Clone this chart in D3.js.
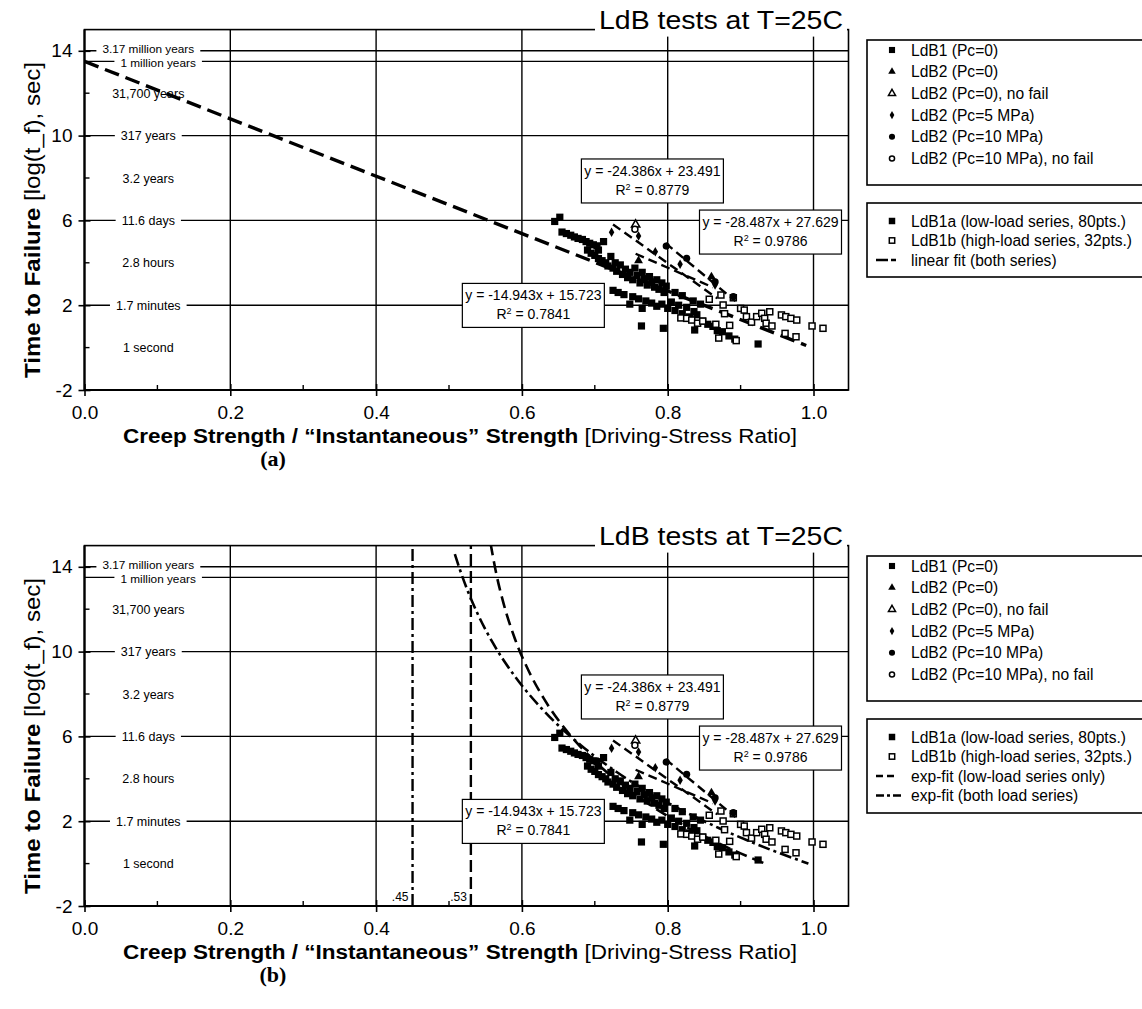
<!DOCTYPE html>
<html><head><meta charset="utf-8">
<script src="https://cdn.jsdelivr.net/npm/d3@7"></script>
<style>body{margin:0;background:#fff}svg{display:block}text{font-family:"Liberation Sans",Arial,sans-serif}</style>
</head><body>
<svg id="chart" width="1142" height="1009"></svg>
<script>
// ---- axis ticks ----
const xTicks = [0, 0.2, 0.4, 0.6, 0.8, 1.0];
const xMinor = [0.1, 0.3, 0.5, 0.7, 0.9];
const yTicks = [-2, 2, 6, 10, 14];
const yMinor = [0, 4, 8, 12];
const xGrid = [0.2, 0.4, 0.6, 0.8, 1.0];

// ---- time-to-failure reference levels (log10 seconds) ----
const timeValues = [0, 2, 4, 6, 8, 10, 12, 13.5, 14];
const timeLabels = ["1 second", "1.7 minutes", "2.8 hours", "11.6 days", "3.2 years", "317 years", "31,700 years", "1 million years", "3.17 million years"];
const timeRuled = [false, true, false, true, false, true, false, true, true];

// ---- LdB1 low-load series (80 pts) [ratio, log t_f] ----
const ldb1a = [
 [0.645,5.95],[0.652,6.15],[0.655,5.45],[0.661,5.38],[0.667,5.30],[0.672,5.22],[0.677,5.15],[0.683,5.10],
 [0.688,5.00],[0.693,4.92],[0.698,4.85],[0.703,4.80],[0.690,4.60],[0.695,4.45],[0.700,4.35],[0.705,4.20],
 [0.710,4.10],[0.705,4.60],[0.715,4.00],[0.718,3.85],[0.722,4.30],[0.725,3.75],[0.728,4.00],[0.730,3.60],
 [0.735,3.90],[0.738,3.45],[0.742,3.70],[0.745,3.30],[0.748,3.55],[0.752,3.20],[0.755,3.75],[0.758,3.40],
 [0.762,3.05],[0.765,3.55],[0.768,3.25],[0.772,2.95],[0.775,3.35],[0.778,3.10],[0.782,2.85],[0.785,3.20],
 [0.788,2.75],[0.792,3.05],[0.795,2.60],[0.798,2.90],[0.725,2.70],[0.732,2.60],[0.740,2.50],[0.748,2.05],
 [0.752,2.40],[0.760,2.30],[0.765,1.85],[0.770,2.20],[0.778,2.10],[0.785,1.95],[0.792,2.05],[0.800,1.85],
 [0.805,2.15],[0.810,1.75],[0.815,2.00],[0.820,1.60],[0.826,1.90],[0.830,1.45],[0.836,1.70],[0.840,1.55],
 [0.848,1.25],[0.855,1.10],[0.862,1.00],[0.868,0.80],[0.875,0.75],[0.884,0.55],[0.892,0.40],[0.924,0.17],
 [0.764,1.02],[0.794,0.91],[0.837,0.83],[0.810,2.60],[0.820,2.45],[0.835,2.20],[0.845,2.05],[0.712,5.00]
];
// ---- LdB1 high-load series (32 pts) ----
const ldb1b = [
 [0.818,1.40],[0.826,1.38],[0.833,1.30],[0.841,1.15],[0.848,1.25],[0.857,2.28],[0.873,2.48],[0.876,2.01],
 [0.878,1.60],[0.890,2.35],[0.894,0.33],[0.900,1.85],[0.905,1.77],[0.908,1.46],[0.915,1.20],[0.922,1.46],
 [0.929,1.62],[0.933,1.38],[0.935,1.15],[0.940,1.69],[0.943,1.02],[0.956,1.54],[0.962,1.46],[0.961,0.67],
 [0.969,1.38],[0.976,0.51],[0.977,1.30],[0.998,1.02],[1.013,0.91],[0.866,1.10],[0.885,1.05],[0.870,0.45]
];
// ---- LdB2 series ----
const ldb2Pc0 = [[0.760,4.10],[0.860,3.34]];
const ldb2Pc0NoFail = [[0.756,5.80]];
const ldb2Pc5 = [[0.723,5.44],[0.760,5.26],[0.783,4.52],[0.817,3.93],[0.865,2.95]];
const ldb2Pc10 = [[0.798,4.79],[0.826,4.21],[0.865,3.10],[0.890,2.40]];
const ldb2Pc10NoFail = [[0.755,5.58]];

// ---- fits ----
const linearBoth = [[0.0,13.5],[0.99,0.10]];
const fitSlopes = [-24.386, -28.487, -14.943];
const fitIntercepts = [23.491, 27.629, 15.723];
const fitR2 = ["0.8779", "0.9786", "0.7841"];
const fitRanges = [[0.725,0.868],[0.797,0.893],[0.756,0.862]];
const fitBoxAt = [[0.779,7.86],[0.941,5.45],[0.6157,1.99]];

// exponential fits (panel b)
const expLowLoad = [[0.557,15.1],[0.565,13.65],[0.575,12.25],[0.590,10.64],[0.610,9.04],[0.630,7.79],[0.660,6.32],
 [0.700,4.83],[0.750,3.39],[0.800,2.24],[0.850,1.29],[0.900,0.48],[0.935,-0.02]];
const expBoth = [[0.508,14.60],[0.515,13.86],[0.525,12.92],[0.540,11.73],[0.560,10.42],[0.590,8.85],[0.630,7.21],
 [0.680,5.61],[0.730,4.32],[0.800,2.87],[0.870,1.68],[0.940,0.67],[0.993,0.0]];
const asymptotes = [0.45, 0.53];
const asymptoteLabels = [".45", ".53"];

const svg = d3.select("#chart");

function marker(sel, kind, size) {
  const s = size || 1;
  if (kind === "sq") return sel.append("rect").attr("x",-3.6*s).attr("y",-3.6*s).attr("width",7.2*s).attr("height",7.2*s).attr("fill","#000");
  if (kind === "osq") return sel.append("rect").attr("x",-3*s).attr("y",-3*s).attr("width",6*s).attr("height",6*s).attr("fill","#fff").attr("stroke","#000").attr("stroke-width",1.5);
  if (kind === "tri") return sel.append("path").attr("d",d3.symbol(d3.symbolTriangle, 34*s*s)()).attr("fill","#000");
  if (kind === "otri") return sel.append("path").attr("d",d3.symbol(d3.symbolTriangle, 30*s*s)()).attr("fill","#fff").attr("stroke","#000").attr("stroke-width",1.5);
  if (kind === "dia") return sel.append("path").attr("d",d3.symbol(d3.symbolDiamond, 26*s*s)()).attr("fill","#000");
  if (kind === "cir") return sel.append("circle").attr("r",3.6*s).attr("fill","#000");
  if (kind === "ocir") return sel.append("circle").attr("r",3*s).attr("fill","#fff").attr("stroke","#000").attr("stroke-width",1.5);
}

function drawPanel(dy, variant) {
  const g = svg.append("g").attr("transform", `translate(0,${dy})`);
  const x = d3.scaleLinear().domain([0, 1.048]).range([84.5, 848.5]);
  const y = d3.scaleLinear().domain([-2, 15]).range([390, 29.6]);
  const clipId = "clip-" + variant;
  g.append("clipPath").attr("id", clipId).append("rect")
    .attr("x", x(0)).attr("y", y(15)).attr("width", x(1.048) - x(0)).attr("height", y(-2) - y(15));

  // grid
  g.selectAll(".vg").data(xGrid).join("line")
    .attr("x1", d => x(d)).attr("x2", d => x(d)).attr("y1", y(-2)).attr("y2", y(15))
    .attr("stroke", "#000").attr("stroke-width", 1.4);
  const ruled = timeValues.filter((v, i) => timeRuled[i]);
  g.selectAll(".hg").data(ruled).join("line")
    .attr("x1", x(0)).attr("x2", x(1.048)).attr("y1", d => y(d)).attr("y2", d => y(d))
    .attr("stroke", "#000").attr("stroke-width", 1.4);

  // time labels on the left part of the plot
  timeValues.forEach((v, i) => {
    const lbl = timeLabels[i];
    const cx = lbl === "1 million years" ? x(0.101) : x(0.0875);
    // the two closely spaced top levels are nudged apart slightly
    const nudge = lbl === "1 million years" ? 1.6 : lbl === "3.17 million years" ? -1.6 : 0;
    const t = g.append("text").attr("x", cx).attr("y", y(v) + nudge).attr("dy", "0.36em")
      .attr("text-anchor", "middle").attr("font-size", timeRuled[i] && v > 13 ? 11.8 : 12.5).text(lbl);
    if (timeRuled[i]) {
      const b = t.node().getBBox();
      g.insert("rect", () => t.node()).attr("x", b.x - 6).attr("y", y(v) - 2).attr("width", b.width + 12).attr("height", 4).attr("fill", "#fff");
    }
  });

  const plot = g.append("g").attr("clip-path", `url(#${clipId})`);

  // fitted curves
  const line = d3.line().x(d => x(d[0])).y(d => y(d[1]));
  if (variant === "a") {
    plot.append("path").datum(linearBoth).attr("d", line).attr("fill", "none")
      .attr("stroke", "#000").attr("stroke-width", 3.4).attr("stroke-dasharray", "15,7");
  } else {
    const curve = d3.line().x(d => x(d[0])).y(d => y(d[1])).curve(d3.curveMonotoneX);
    plot.append("path").datum(expLowLoad).attr("d", curve).attr("fill", "none")
      .attr("stroke", "#000").attr("stroke-width", 2.6).attr("stroke-dasharray", "12,6");
    plot.append("path").datum(expBoth).attr("d", curve).attr("fill", "none")
      .attr("stroke", "#000").attr("stroke-width", 2.6).attr("stroke-dasharray", "12,4,3,4");
    asymptotes.forEach((a, i) => {
      plot.append("line").attr("x1", x(a)).attr("x2", x(a)).attr("y1", y(-2)).attr("y2", y(15))
        .attr("stroke", "#000").attr("stroke-width", 2.4)
        .attr("stroke-dasharray", i === 0 ? "12,4,3,4" : "12,5");
      g.append("text").attr("x", x(a) - 4).attr("y", y(-2) - 5).attr("text-anchor", "end")
        .attr("font-size", 12).text(asymptoteLabels[i]);
    });
  }
  fitSlopes.forEach((m, i) => {
    const pts = fitRanges[i].map(xx => [xx, m * xx + fitIntercepts[i]]);
    plot.append("path").datum(pts).attr("d", line).attr("fill", "none")
      .attr("stroke", "#000").attr("stroke-width", 2.4).attr("stroke-dasharray", "9,5");
  });

  // data points
  const groups = [[ldb1a,"sq"],[ldb1b,"osq"],[ldb2Pc0,"tri"],[ldb2Pc0NoFail,"otri"],[ldb2Pc5,"dia"],[ldb2Pc10,"cir"],[ldb2Pc10NoFail,"ocir"]];
  groups.forEach(([data, kind]) => {
    data.forEach(d => {
      const m = plot.append("g").attr("transform", `translate(${x(d[0])},${y(d[1])})`);
      marker(m, kind);
    });
  });

  // equation boxes
  fitSlopes.forEach((m, i) => {
    const cx = x(fitBoxAt[i][0]), cy = y(fitBoxAt[i][1]);
    const bg = g.append("g").attr("transform", `translate(${cx},${cy})`);
    bg.append("rect").attr("x", -71).attr("y", -22).attr("width", 142).attr("height", 44)
      .attr("fill", "#fff").attr("stroke", "#000").attr("stroke-width", 1.2);
    const sgn = fitIntercepts[i] >= 0 ? "+" : "-";
    bg.append("text").attr("y", -5).attr("text-anchor", "middle").attr("font-size", 14)
      .text(`y = ${m}x ${sgn} ${Math.abs(fitIntercepts[i]).toFixed(3)}`);
    const r = bg.append("text").attr("y", 14).attr("text-anchor", "middle").attr("font-size", 14);
    r.append("tspan").text("R");
    r.append("tspan").attr("font-size", 9).attr("dy", -5).text("2");
    r.append("tspan").attr("dy", 5).text(` = ${fitR2[i]}`);
  });

  // frame
  g.append("rect").attr("x", x(0)).attr("y", y(15)).attr("width", x(1.048) - x(0)).attr("height", y(-2) - y(15))
    .attr("fill", "none").attr("stroke", "#000").attr("stroke-width", 1.6);
  g.append("line").attr("x1", x(0)).attr("x2", x(1.048)).attr("y1", y(-2)).attr("y2", y(-2)).attr("stroke", "#000").attr("stroke-width", 2.2);
  g.append("line").attr("x1", x(0)).attr("x2", x(0)).attr("y1", y(-2)).attr("y2", y(15)).attr("stroke", "#000").attr("stroke-width", 2.2);

  // title over the top border
  const tt = g.append("text").attr("x", 599).attr("y", y(15) - 1).attr("font-size", 25)
    .attr("textLength", 244).attr("lengthAdjust", "spacingAndGlyphs").text("LdB tests at T=25C");
  const tb = tt.node().getBBox();
  g.insert("rect", () => tt.node()).attr("x", tb.x - 4).attr("y", tb.y).attr("width", tb.width + 8).attr("height", tb.height + 3).attr("fill", "#fff");

  // x axis
  const xa = g.append("g").attr("transform", `translate(0,${y(-2)})`)
    .call(d3.axisBottom(x).tickValues(xTicks).tickFormat(d3.format(".1f")).tickSize(6).tickPadding(10));
  xa.select(".domain").remove();
  xa.selectAll(".tick line").attr("y1", -6).attr("y2", 6).attr("stroke-width", 1.6);
  xa.selectAll(".tick text").attr("font-size", 19).attr("font-family", "Liberation Sans, Arial, sans-serif");
  g.selectAll(".xm").data(xMinor).join("line").attr("x1", d => x(d)).attr("x2", d => x(d))
    .attr("y1", y(-2) - 5).attr("y2", y(-2)).attr("stroke", "#000").attr("stroke-width", 1.4);

  // y axis
  const ya = g.append("g").attr("transform", `translate(${x(0)},0)`)
    .call(d3.axisLeft(y).tickValues(yTicks).tickFormat(d => String(d)).tickSize(6).tickPadding(6));
  ya.select(".domain").remove();
  ya.selectAll(".tick line").attr("x1", -6).attr("x2", 6).attr("stroke-width", 1.6);
  ya.selectAll(".tick text").attr("font-size", 19).attr("font-family", "Liberation Sans, Arial, sans-serif");
  g.selectAll(".ym").data(yMinor).join("line").attr("x1", x(0)).attr("x2", x(0) + 5)
    .attr("y1", d => y(d)).attr("y2", d => y(d)).attr("stroke", "#000").attr("stroke-width", 1.4);

  // axis titles
  const yt = g.append("text").attr("transform", `translate(40,220) rotate(-90)`).attr("text-anchor", "middle")
    .attr("font-size", 22).attr("textLength", 316).attr("lengthAdjust", "spacingAndGlyphs");
  yt.append("tspan").attr("font-weight", "bold").text("Time to Failure");
  yt.append("tspan").text(" [log(t_f), sec]");
  const xt = g.append("text").attr("x", 460).attr("y", 443).attr("text-anchor", "middle").attr("font-size", 20)
    .attr("textLength", 674).attr("lengthAdjust", "spacingAndGlyphs");
  xt.append("tspan").attr("font-weight", "bold").text("Creep Strength / \u201cInstantaneous\u201d Strength");
  xt.append("tspan").text(" [Driving-Stress Ratio]");
  g.append("text").attr("x", 273).attr("y", 466).attr("text-anchor", "middle").attr("font-size", 22)
    .attr("font-weight", "bold").style("font-family", "Liberation Serif, Times New Roman, serif").text(`(${variant})`);

  // legends
  const lg1 = g.append("g");
  lg1.append("rect").attr("x", 867).attr("y", 40).attr("width", 300).attr("height", 145).attr("fill", "#fff").attr("stroke", "#000").attr("stroke-width", 1.6);
  const leg1 = [["sq","LdB1 (Pc=0)"],["tri","LdB2 (Pc=0)"],["otri","LdB2 (Pc=0), no fail"],["dia","LdB2 (Pc=5 MPa)"],["cir","LdB2 (Pc=10 MPa)"],["ocir","LdB2 (Pc=10 MPa), no fail"]];
  leg1.forEach((e, i) => {
    const cy = 50 + i * 21.7;
    marker(lg1.append("g").attr("transform", `translate(892,${cy})`), e[0], 0.85);
    lg1.append("text").attr("x", 911).attr("y", cy).attr("dy", "0.36em").attr("font-size", 15.6).text(e[1]);
  });
  const leg2 = variant === "a"
    ? [["sq","LdB1a (low-load series, 80pts.)"],["osq","LdB1b (high-load series, 32pts.)"],["lin","linear fit (both series)"]]
    : [["sq","LdB1a (low-load series, 80pts.)"],["osq","LdB1b (high-load series, 32pts.)"],["dash","exp-fit (low-load series only)"],["dd","exp-fit (both load series)"]];
  const lg2 = g.append("g");
  const h2 = variant === "a" ? 74 : 94;
  lg2.append("rect").attr("x", 867).attr("y", 203).attr("width", 300).attr("height", h2).attr("fill", "#fff").attr("stroke", "#000").attr("stroke-width", 1.6);
  leg2.forEach((e, i) => {
    const cy = 221 + i * 19.5;
    if (e[0] === "sq" || e[0] === "osq") marker(lg2.append("g").attr("transform", `translate(892,${cy})`), e[0], 0.9);
    else {
      const dash = e[0] === "lin" ? "12,3,5,20" : e[0] === "dash" ? "7,4,7,20" : "8,3,3,3,8,20";
      lg2.append("line").attr("x1", 876).attr("x2", 905).attr("y1", cy).attr("y2", cy).attr("stroke", "#000")
        .attr("stroke-width", 2.4).attr("stroke-dasharray", dash);
    }
    lg2.append("text").attr("x", 911).attr("y", cy).attr("dy", "0.36em").attr("font-size", 15.6).text(e[1]);
  });
}

drawPanel(0, "a");
drawPanel(516, "b");
</script>
</body></html>
